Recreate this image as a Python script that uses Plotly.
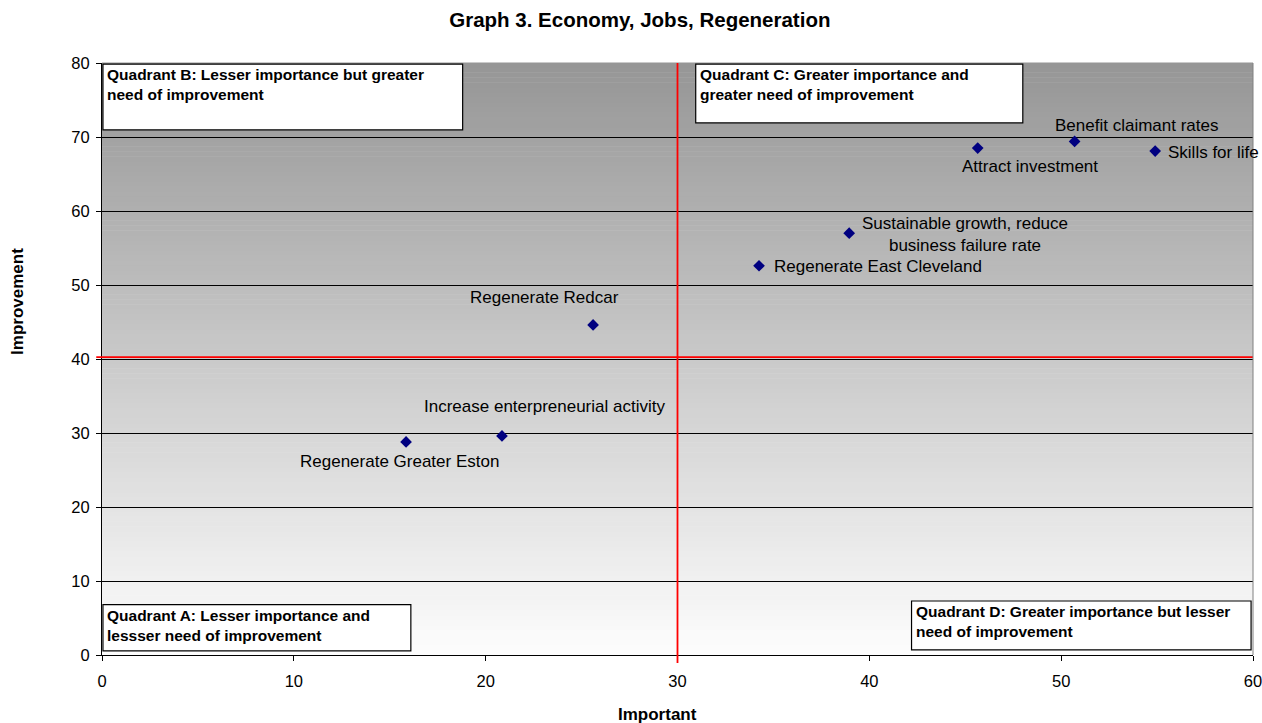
import plotly.graph_objects as go

# ---- data ----
labels = ["Regenerate Greater Eston", "Increase enterpreneurial activity", "Regenerate Redcar",
          "Regenerate East Cleveland", "Sustainable growth, reduce<br>business failure rate",
          "Attract investment", "Benefit claimant rates", "Skills for life"]
important = [15.85, 20.85, 25.6, 34.25, 38.95, 45.65, 50.7, 54.9]
improvement = [28.8, 29.6, 44.6, 52.6, 57.0, 68.5, 69.4, 68.1]
x_ticks = [0, 10, 20, 30, 40, 50, 60]
y_ticks = [0, 10, 20, 30, 40, 50, 60, 70, 80]
x_split = 30
y_split = 40.25

FONT = "Arial, Liberation Sans, sans-serif"

# label placement (pixel offsets / anchors), styling only
label_pos = [
    dict(xshift=-7, yshift=-20, xanchor="center"),
    dict(xshift=43, yshift=29, xanchor="center"),
    dict(xshift=-49, yshift=27, xanchor="center"),
    dict(xshift=13, yshift=-1, xanchor="left"),
    dict(xshift=116, yshift=-1.5, xanchor="center"),
    dict(xshift=52, yshift=-18, xanchor="center"),
    dict(xshift=62, yshift=16, xanchor="center"),
    dict(xshift=11, yshift=-1, xanchor="left"),
]

fig = go.Figure()
fig.add_trace(go.Scatter(
    x=important, y=improvement, mode="markers",
    marker=dict(symbol="diamond", color="#000080", size=9),
    hovertext=labels, showlegend=False, cliponaxis=False,
))

shapes = []
# gradient background
n = 120
for i in range(n):
    t = i / (n - 1)
    g = int(round(253 - (253 - 150) * t))
    shapes.append(dict(type="rect", xref="paper", yref="paper",
                       x0=0, x1=1, y0=i / n, y1=(i + 1) / n + 0.001,
                       fillcolor=f"rgb({g},{g},{g})", line=dict(width=0), layer="below"))

annotations = []
for lab, xv, yv, p in zip(labels, important, improvement, label_pos):
    annotations.append(dict(x=xv, y=yv, xref="x", yref="y", text=lab, showarrow=False,
                            xshift=p["xshift"], yshift=p["yshift"], xanchor=p["xanchor"],
                            yanchor="middle", font=dict(family=FONT, size=17, color="black")))

# quadrant boxes
boxes = [
    (0.05, 18.8, 70.95, 79.86, "Quadrant B: Lesser importance but greater<br>need of improvement"),
    (30.95, 48.0, 71.9, 79.86, "Quadrant C: Greater importance and<br>greater need of improvement"),
    (0.05, 16.1, 0.55, 6.8, "Quadrant A: Lesser importance and<br>lessser need of improvement"),
    (42.2, 59.9, 0.7, 7.3, "Quadrant D: Greater importance but lesser<br>need of improvement"),
]
for x0, x1, y0, y1, txt in boxes:
    shapes.append(dict(type="rect", xref="x", yref="y", x0=x0, x1=x1, y0=y0, y1=y1,
                       fillcolor="white", line=dict(color="black", width=1.2), layer="above"))
    annotations.append(dict(x=x0, y=y1, xref="x", yref="y", text="<b>" + txt + "</b>",
                            showarrow=False, xanchor="left", yanchor="top", align="left",
                            xshift=2, yshift=0,
                            font=dict(family=FONT, size=15.5, color="black")))

# axis titles placed as in the reference
annotations.append(dict(x=0.483, y=-0.0997, xref="paper", yref="paper", text="<b>Important</b>",
                        showarrow=False, xanchor="center", yanchor="middle",
                        font=dict(family=FONT, size=17, color="black")))
annotations.append(dict(x=-0.073, y=0.598, xref="paper", yref="paper", text="<b>Improvement</b>",
                        showarrow=False, xanchor="center", yanchor="middle", textangle=-90,
                        font=dict(family=FONT, size=17, color="black")))

# red quadrant split lines
shapes.append(dict(type="line", xref="x", yref="paper", x0=x_split, x1=x_split, y0=-0.0135, y1=1,
                   line=dict(color="#ff0000", width=1.8), layer="above"))
shapes.append(dict(type="line", xref="paper", yref="y", x0=-0.005, x1=1, y0=y_split, y1=y_split,
                   line=dict(color="#ff0000", width=1.8), layer="above"))
# right border
shapes.append(dict(type="line", xref="paper", yref="paper", x0=1, x1=1, y0=0, y1=1,
                   line=dict(color="#808080", width=1), layer="above"))

fig.update_layout(
    width=1262, height=723,
    margin=dict(l=102, r=9, t=63, b=68, autoexpand=False),
    paper_bgcolor="white", plot_bgcolor="rgba(0,0,0,0)",
    font=dict(family=FONT, size=17, color="black"),
    title=dict(text="<b>Graph 3. Economy, Jobs, Regeneration</b>", x=0.507, xanchor="center",
               y=0.9723, yanchor="middle", font=dict(family=FONT, size=20.5, color="black")),
    shapes=shapes, annotations=annotations,
    xaxis=dict(range=[0, 60], tickvals=x_ticks, showgrid=False, zeroline=False, automargin=False,
               showline=True, linecolor="black", linewidth=1, ticks="outside", ticklen=5,
               tickcolor="black", tickfont=dict(size=16.5), ticklabelstandoff=6,
               ticklabeloverflow="allow"),
    yaxis=dict(range=[0, 80], tickvals=y_ticks, showgrid=True, gridcolor="black", gridwidth=1,
               zeroline=False, showline=True, linecolor="black", linewidth=1, automargin=False,
               ticks="outside", ticklen=5, tickcolor="black", tickfont=dict(size=16.5),
               ticklabelstandoff=3),
)

# remove the page's default body margin so the 1262x723 figure fills the window exactly
fig.write_html("out.html",
               config={"displayModeBar": False},
               post_script="document.body.style.margin='0';"
                           "document.documentElement.style.overflow='hidden';"
                           "document.body.style.overflow='hidden';")
